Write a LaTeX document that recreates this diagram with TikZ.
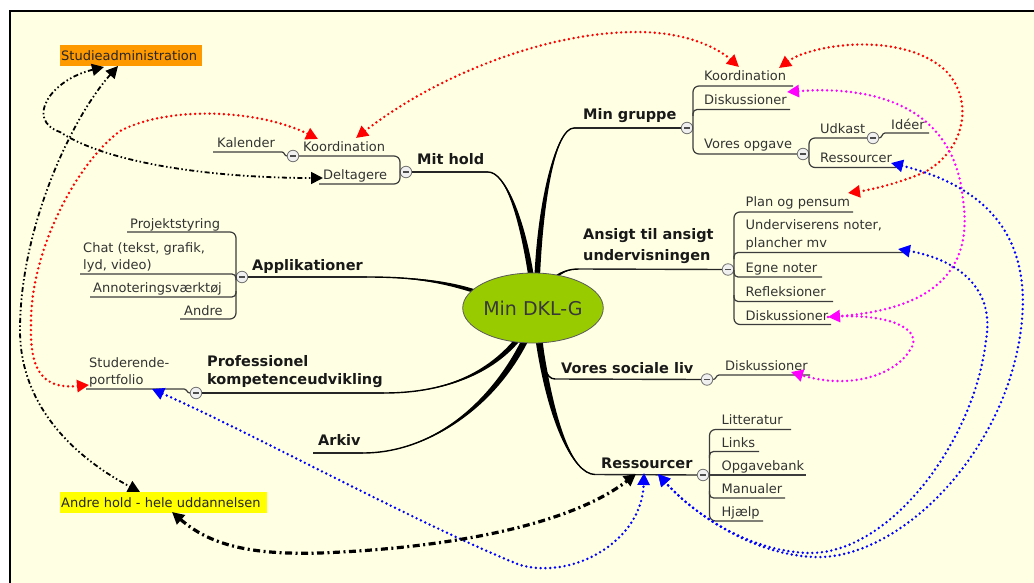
\documentclass[tikz,border=0pt]{standalone}
\usepackage{fontspec}
\setmainfont{DejaVu Sans}
\usetikzlibrary{arrows.meta,calc,shapes.geometric}

\definecolor{paper}{HTML}{FFFFE3}
\definecolor{limeg}{HTML}{99CC00}
\definecolor{orangebox}{HTML}{FF9900}
\definecolor{yellowbox}{HTML}{FFFF00}
\definecolor{txt}{HTML}{333333}
\definecolor{uln}{HTML}{3C3C3C}
\definecolor{linkred}{HTML}{FF0000}
\definecolor{linkpink}{HTML}{FF00FF}
\definecolor{linkblue}{HTML}{0000FF}

% tapered main branch: thin end, control 1, control 2, thick end, half width vector
\newcommand\mmbranch[5]{%
  \fill[black] (#1) .. controls (#2) and ($(#3)+(#5)$) .. ($(#4)+(#5)$)
     -- ($(#4)-(#5)$) .. controls ($(#3)-(#5)$) and (#2) .. (#1) -- cycle;
  \draw[black, line width=1.4pt] (#1) .. controls (#2) and (#3) .. (#4);}

\begin{document}
\begin{tikzpicture}[x=1pt,y=-1pt,
  sub/.style={anchor=base west, inner sep=0pt, font=\fontsize{13}{16}\selectfont, text=txt},
  topic/.style={anchor=base west, inner sep=0pt, font=\fontsize{14.5}{18}\selectfont\bfseries, text=black!90},
  uline/.style={draw=uln, line width=1.2pt},
  tline/.style={draw=black!85, line width=1.4pt},
  bracket/.style={uline, rounded corners=6pt},
  tog/.style={circle, draw=black!55, fill=black!6, line width=0.8pt, minimum size=11.5pt, inner sep=0pt,
    path picture={\draw[black!70, line width=1.1pt]
      ([xshift=-2.8pt]path picture bounding box.center) -- ([xshift=2.8pt]path picture bounding box.center);}},
  twoheads/.style={{Triangle[length=12pt,width=12pt]}-{Triangle[length=12pt,width=12pt]}},
  onehead/.style={-{Triangle[length=12pt,width=12pt]}},
  dotlink/.style={line width=2.7pt, line cap=round, dash pattern=on 0pt off 4.8pt},
  boldlink/.style={draw=black, line width=3.2pt, dash pattern=on 7pt off 3.5pt on 2pt off 3.5pt},
  thinlink/.style={draw=black, line width=1.8pt, dash pattern=on 5pt off 2.5pt on 1.5pt off 2.5pt on 1.5pt off 2.5pt},
  hilite/.style={anchor=base west, inner sep=0pt, font=\fontsize{13}{16}\selectfont, text=black!85}
]
\useasboundingbox (0,0) rectangle (1034,583);
\fill[white] (0,0) rectangle (1034,583);
\fill[paper] (10,11) rectangle (1040,590);
\draw[line width=2.2pt] (10,590) -- (10,11) -- (1040,11);

% ---------- main branches ----------
\coordinate (mhA) at (488,172);   \coordinate (mhB) at (532,282);
\coordinate (grpA) at (574,128);  \coordinate (grpB) at (537,282);
\coordinate (ansA) at (579,269);  \coordinate (ansB) at (550,282);
\coordinate (appA) at (367,277);  \coordinate (appB) at (480,293);
\coordinate (proA) at (384,393);  \coordinate (proB) at (522,334);
\coordinate (arkA) at (363,453);  \coordinate (arkB) at (528,334);
\coordinate (socA) at (555,379);  \coordinate (socB) at (540,334);
\coordinate (resA) at (595,474.5);\coordinate (resB) at (538,334);

\mmbranch{mhA}{505,172}{522,215}{mhB}{2.8,0}
\mmbranch{grpA}{556,128}{540,200}{grpB}{2.8,0}
\mmbranch{ansA}{568,269}{560,272}{ansB}{1.1,1.1}
\mmbranch{appA}{410,277}{445,281}{appB}{-0.6,1.8}
\mmbranch{proA}{450,393}{495,370}{proB}{2,1.6}
\mmbranch{arkA}{430,453}{495,405}{arkB}{3.1,1}
\mmbranch{socA}{546,379}{541,365}{socB}{2.6,0}
\mmbranch{resA}{572,474}{550,420}{resB}{3.3,-0.3}

\node[ellipse, draw=black!65, line width=0.8pt, fill=limeg, minimum width=140pt, minimum height=70pt,
  inner sep=0pt, font=\fontsize{19}{22}\selectfont, text=black!78] (hub) at (533,308) {Min DKL-G};

% ---------- Mit hold ----------
\node[topic] (mithold) at (417,165) {Mit hold};
\node[tog] (mhT) at (406,172) {};
\draw[tline] (mhT.east) -- (mhA);
\node[sub] (mhK) at (303,152) {Koordination};
\node[tog] (mhKT) at (293,156) {};
\node[sub] (mhD) at (323,180) {Deltagere};
\draw[bracket] (mhKT.east) -- (400,156) -- (400,184) -- (319,184);
\node[sub] (kal) at (217,148) {Kalender};
\draw[uline] (213,152) -- (282,152) to[out=0,in=180] (mhKT.west);

% ---------- Applikationer ----------
\node[topic] (app) at (252,270) {Applikationer};
\node[tog] (appT) at (242,277) {};
\draw[tline] (appT.east) -- (appA);
\node[sub] (proj) at (130,228) {Projektstyring};
\node[sub] (chat1) at (83,252) {Chat (tekst, grafik,};
\node[sub] (chat2) at (83,269) {lyd, video)};
\node[sub] (annot) at (93,292) {Annoteringsværktøj};
\node[sub] (andre) at (184,315) {Andre};
\draw[bracket] (127,232) -- (236,232) -- (236,319) -- (180,319);
\draw[uline, rounded corners=4pt] (236,280) -- (236,274) -- (80,274);
\draw[uline, rounded corners=4pt] (236,291) -- (236,297) -- (90,297);

% ---------- Professionel kompetenceudvikling ----------
\node[topic] (pro1) at (207,366) {Professionel};
\node[topic] (pro2) at (207,384) {kompetenceudvikling};
\node[tog] (proT) at (196,393) {};
\draw[tline] (proT.east) -- (proA);
\node[sub] (stud1) at (89,367) {Studerende-};
\node[sub] (stud2) at (89,384) {portfolio};
\draw[uline] (86,389) -- (184,389) to[out=0,in=180] (proT.west);

% ---------- Arkiv ----------
\node[topic] (arkiv) at (318,445) {Arkiv};
\draw[tline] (313,453) -- (arkA);

% ---------- Min gruppe ----------
\node[topic] (grp) at (583,120) {Min gruppe};
\node[tog] (grpT) at (687,128) {};
\draw[tline] (grpA) -- (grpT.west);
\node[sub] (gK) at (704,80.5) {Koordination};
\node[sub] (gD) at (704,104.5) {Diskussioner};
\node[sub] (gV) at (704,149) {Vores opgave};
\node[tog] (gVT) at (803,154) {};
\draw[bracket] (793,86) -- (693,86) -- (693,154) -- (gVT.west);
\draw[uline, rounded corners=4pt] (693,116) -- (693,109.5) -- (790,109.5);
\node[sub] (udk) at (820,133.5) {Udkast};
\node[tog] (udT) at (873,138) {};
\node[sub] (gR) at (820,162.5) {Ressourcer};
\draw[bracket] (udT.west) -- (809,138) -- (809,167.5) -- (896,167.5);
\node[sub] (ideer) at (891,129.5) {Idéer};
\draw[uline] (udT.east) to[out=0,in=180] (885,133) -- (929,133);

% ---------- Ansigt til ansigt undervisningen ----------
\node[topic] (ans1) at (583,240) {Ansigt til ansigt};
\node[topic] (ans2) at (583,260.5) {undervisningen};
\node[tog] (ansT) at (728,269.5) {};
\draw[tline] (ansA) -- (ansT.west);
\node[sub] (plan) at (745.5,206.5) {Plan og pensum};
\node[sub] (und1) at (745.5,229.5) {Underviserens noter,};
\node[sub] (und2) at (745.5,247.5) {plancher mv};
\node[sub] (egne) at (745.5,272.5) {Egne noter};
\node[sub] (refl) at (745.5,296.5) {Refleksioner};
\node[sub] (aD) at (745.5,320.5) {Diskussioner};
\draw[bracket] (853,212) -- (734,212) -- (734,324.5) -- (831,324.5);
\draw[uline, rounded corners=4pt] (734,259) -- (734,252.5) -- (905,252.5);
\draw[uline, rounded corners=4pt] (734,270) -- (734,277) -- (822,277);
\draw[uline, rounded corners=4pt] (734,295) -- (734,301.5) -- (833,301.5);

% ---------- Vores sociale liv ----------
\node[topic] (soc) at (561,373.5) {Vores sociale liv};
\node[tog] (socT) at (707,379.5) {};
\draw[tline] (socA) -- (socT.west);
\node[sub] (sD) at (725,370) {Diskussioner};
\draw[uline] (socT.east) to[out=0,in=180] (719,375) -- (810,375);

% ---------- Ressourcer ----------
\node[topic] (res) at (601,468) {Ressourcer};
\node[tog] (resT) at (703,475) {};
\draw[tline] (resA) -- (resT.west);
\node[sub] (lit) at (721.5,424.5) {Litteratur};
\node[sub] (links) at (721.5,447.5) {Links};
\node[sub] (opg) at (721.5,470.5) {Opgavebank};
\node[sub] (man) at (721.5,493.5) {Manualer};
\node[sub] (hj) at (721.5,516.5) {Hjælp};
\draw[bracket] (791,429.5) -- (709.5,429.5) -- (709.5,521) -- (763,521);
\draw[uline, rounded corners=4pt] (709.5,458) -- (709.5,451.5) -- (759,451.5);
\draw[uline] (resT.east) -- (806,475);
\draw[uline, rounded corners=4pt] (709.5,491) -- (709.5,498) -- (785,498);

% ---------- floating topics ----------
\fill[orangebox] (60,45) rectangle (202,66);
\node[hilite] (sadm) at (61,61) {Studieadministration};
\fill[yellowbox] (60,492) rectangle (267,513);
\node[hilite] (ahold) at (61,507) {Andre hold - hele uddannelsen};

% ---------- relationship arrows ----------
\coordinate (r1a) at (356,138);  \coordinate (r1b) at (739,67);
\coordinate (r2a) at (89,385);   \coordinate (r2b) at (318,139);
\coordinate (r3a) at (779,68);   \coordinate (r3b) at (848,193);
\coordinate (m1a) at (787,92);   \coordinate (m1b) at (828,317);
\coordinate (m2b) at (791,372);
\coordinate (b1a) at (891,163);  \coordinate (b2a) at (898,249);
\coordinate (bres) at (658,474); \coordinate (b3a) at (152,389); \coordinate (b3b) at (644,473);
\coordinate (d1a) at (172,512);  \coordinate (d1b) at (636,474);
\coordinate (d2a) at (104,67);   \coordinate (d2b) at (323,178);
\coordinate (d3a) at (118,66);   \coordinate (d3b) at (140,492);

\draw[dotlink, draw=linkred, twoheads] (r1a) .. controls (430,80) and (540,32) .. (637,32)
   .. controls (690,32) and (720,50) .. (r1b);
\draw[dotlink, draw=linkred, twoheads] (r2a) .. controls (35,390) and (30,360) .. (31,320)
   .. controls (32,250) and (75,165) .. (120,131) .. controls (170,105) and (260,110) .. (r2b);
\draw[dotlink, draw=linkred, twoheads] (r3a) .. controls (810,45) and (900,30) .. (945,70)
   .. controls (975,100) and (965,150) .. (925,172) .. controls (900,183) and (870,190) .. (r3b);

\draw[dotlink, draw=linkpink, twoheads] (m1a) .. controls (880,85) and (955,110) .. (963,200)
   .. controls (975,280) and (920,310) .. (m1b);
\draw[dotlink, draw=linkpink, onehead] (m1b) .. controls (890,312) and (925,330) .. (910,350)
   .. controls (895,375) and (850,390) .. (m2b);

\draw[dotlink, draw=linkblue, twoheads] (b1a) .. controls (980,185) and (1030,230) .. (1022,320)
   .. controls (1010,450) and (900,560) .. (815,557) .. controls (750,555) and (690,510) .. (bres);
\draw[dotlink, draw=linkblue, twoheads] (b2a) .. controls (960,260) and (995,290) .. (986,340)
   .. controls (975,440) and (890,555) .. (808,553) .. controls (745,551) and (690,510) .. (bres);
\draw[dotlink, draw=linkblue, twoheads] (b3a) .. controls (250,432) and (420,525) .. (520,565)
   .. controls (575,580) and (642,540) .. (b3b);

\draw[boldlink, twoheads] (d1a) .. controls (210,545) and (250,555) .. (320,553)
   .. controls (450,548) and (570,525) .. (d1b);
\draw[thinlink, twoheads] (d2a) .. controls (50,80) and (25,120) .. (60,132)
   .. controls (110,165) and (220,178) .. (d2b);
\draw[thinlink, twoheads] (d3a) .. controls (70,120) and (20,230) .. (20,330)
   .. controls (20,410) and (80,460) .. (d3b);
\end{tikzpicture}
\end{document}
